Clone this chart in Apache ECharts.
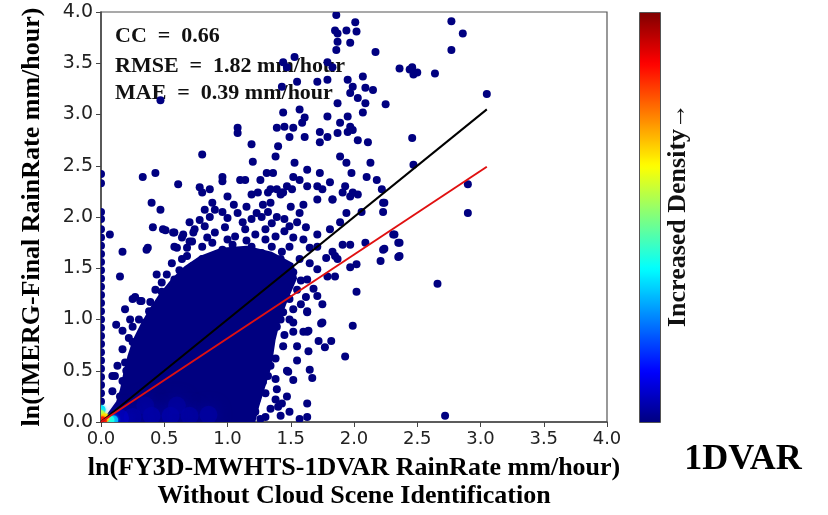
<!DOCTYPE html>
<html>
<head>
<meta charset="utf-8">
<script src="https://cdn.jsdelivr.net/npm/echarts@6/dist/echarts.min.js"></script>
<style>
  html, body { margin: 0; padding: 0; background: #fff; }
  #chart { width: 828px; height: 515px; }
</style>
</head>
<body>
<div id="chart"></div>
<script>
// axis ticks
const xTicks = [0, 0.5, 1, 1.5, 2, 2.5, 3, 3.5, 4];
const yTicks = [0, 0.5, 1, 1.5, 2, 2.5, 3, 3.5, 4];

// saturated (solid) part of the scatter cloud, outline
const denseCore = [
  [0, 0], [0.05, 0.08], [0.12, 0.2], [0.15, 0.32], [0.18, 0.5], [0.21, 0.65], [0.25, 0.8],
  [0.31, 0.95], [0.38, 1.1], [0.46, 1.25], [0.56, 1.4], [0.66, 1.52], [0.78, 1.62], [0.95, 1.7],
  [1.15, 1.72], [1.35, 1.66], [1.52, 1.55], [1.55, 1.4], [1.48, 1.2], [1.42, 1.0], [1.38, 0.8],
  [1.35, 0.55], [1.3, 0.35], [1.25, 0.15], [1.22, 0]
];

// individual points [x, y]
const scatterPoints = [
  [1.86, 3.97], [1.85, 3.82], [1.87, 3.79], [1.94, 3.82], [2.01, 3.90], [2.02, 3.81], [1.87, 3.71], [1.86, 3.63],
  [1.97, 3.70], [2.17, 3.61], [2.36, 3.45], [2.44, 3.44], [2.47, 3.39], [2.46, 3.46], [2.50, 3.41], [2.64, 3.40],
  [2.77, 3.91], [2.86, 3.79], [2.77, 3.63], [3.05, 3.20],
  [1.44, 3.51], [1.53, 3.56], [1.47, 3.46], [1.79, 3.51], [1.83, 3.46],
  [1.43, 3.27], [1.55, 3.32], [1.71, 3.32], [1.79, 3.34],
  [1.95, 3.34], [1.99, 3.27], [2.07, 3.37], [2.09, 3.26], [2.15, 3.24], [1.97, 3.21], [2.03, 3.16], [2.09, 3.11], [2.25, 3.10],
  [0.47, 3.14],
  [1.57, 3.05], [1.61, 2.97], [1.52, 2.87], [1.59, 2.92], [1.44, 3.02], [1.45, 2.88], [1.39, 2.87], [1.49, 2.78],
  [1.61, 2.78], [1.73, 2.83], [1.79, 2.98], [1.87, 3.11], [1.73, 2.73], [1.79, 2.78], [1.87, 2.82], [1.89, 2.92],
  [1.95, 2.98], [1.97, 2.88], [1.99, 2.85], [2.07, 3.02], [2.11, 2.73], [2.03, 2.75], [1.95, 2.83],
  [1.08, 2.87], [1.08, 2.82], [0.80, 2.61], [1.19, 2.71], [1.20, 2.54], [1.38, 2.59], [1.40, 2.69],
  [0.33, 2.39], [0.43, 2.43], [0.61, 2.32], [0.78, 2.29], [0.80, 2.24], [0.86, 2.27], [0.96, 2.39], [0.96, 2.35],
  [1.10, 2.36], [1.14, 2.36], [1.26, 2.36], [1.24, 2.24],
  [1.31, 2.43], [1.36, 2.43], [1.34, 2.27], [1.39, 2.27], [1.44, 2.24], [1.47, 2.30], [1.53, 2.53], [1.52, 2.39],
  [1.57, 2.36], [1.63, 2.46], [1.73, 2.43], [1.71, 2.30], [1.75, 2.27], [1.81, 2.34], [1.83, 2.17],
  [1.89, 2.59], [1.94, 2.53], [1.98, 2.43], [1.93, 2.30], [1.97, 2.20], [2.03, 2.22], [2.10, 2.39], [2.13, 2.53],
  [2.18, 2.36], [2.22, 2.27], [2.23, 2.14],
  [2.46, 2.77], [2.47, 2.51], [2.90, 2.32], [2.90, 2.04], [2.24, 2.14], [2.31, 1.83], [2.36, 1.75], [2.24, 1.69],
  [2.36, 1.62], [2.66, 1.35], [2.72, 0.06],
  [0.40, 2.14], [0.47, 2.07], [0.41, 1.90], [0.49, 1.88], [0.17, 1.66], [0.37, 1.70], [0.07, 1.83],
  [0.57, 1.85], [0.64, 1.80], [0.60, 1.70], [0.70, 1.76], [0.73, 1.85],
  [0.82, 2.07], [0.90, 2.07], [0.96, 2.05], [0.86, 2.00], [1.00, 1.99], [1.08, 2.04], [1.19, 1.98], [1.27, 2.00],
  [1.32, 2.05], [1.39, 2.00], [1.45, 1.98], [1.43, 2.24], [1.32, 2.24], [1.19, 2.22], [1.00, 2.20], [1.51, 2.27],
  [0.74, 1.88], [0.82, 1.91], [0.90, 1.85], [0.98, 1.90], [1.06, 1.81], [1.14, 1.88], [1.22, 1.83], [1.30, 1.88],
  [1.38, 1.81], [1.45, 1.86],
  [0.72, 1.76], [0.80, 1.71], [0.88, 1.75], [0.96, 1.68], [1.04, 1.73], [1.11, 1.66], [1.19, 1.71], [1.27, 1.65],
  [1.35, 1.71], [1.43, 1.66],
  [0.64, 1.59], [0.72, 1.52], [0.80, 1.59], [0.88, 1.54], [0.96, 1.57], [1.04, 1.51], [1.11, 1.56], [1.19, 1.49],
  [1.27, 1.54], [1.35, 1.49], [1.43, 1.52],
  [0.52, 1.44], [0.58, 1.39], [0.66, 1.42], [0.56, 1.29], [0.48, 1.27], [0.43, 1.29], [0.27, 1.22], [0.39, 1.17],
  [0.45, 1.07], [0.40, 1.03], [0.48, 0.93], [0.35, 0.97], [0.25, 0.93], [0.17, 0.89], [0.15, 1.42], [0.44, 1.44],
  [0.32, 1.18], [0.36, 1.68], [0.51, 1.87], [0.58, 1.85], [0.65, 1.83], [0.58, 1.71],
  [1.23, 2.04], [1.34, 2.14], [1.42, 2.22], [1.63, 2.30], [1.71, 2.17], [1.83, 2.17], [1.91, 2.24], [1.99, 2.24],
  [2.06, 2.05], [1.89, 1.95], [1.81, 1.88], [1.71, 1.83], [1.94, 2.04], [1.57, 2.04], [1.49, 1.91], [1.60, 1.78],
  [1.71, 1.71], [1.49, 1.71], [1.42, 1.59], [1.57, 1.59], [1.71, 1.49], [1.52, 1.46], [1.44, 1.39], [1.63, 1.39],
  [1.55, 1.29], [1.71, 1.23], [1.49, 1.20], [1.63, 1.08], [1.44, 1.07], [1.52, 0.97], [1.39, 0.93], [1.31, 1.00],
  [1.79, 1.42], [1.87, 1.59],
  [2.23, 2.05], [2.32, 1.83], [2.35, 1.75], [2.23, 1.68], [2.21, 1.57], [2.35, 1.61], [2.09, 1.75], [1.97, 1.73],
  [1.91, 1.73], [1.83, 1.66], [1.85, 1.62], [1.97, 1.51], [2.02, 1.54], [2.02, 1.27], [1.75, 0.97], [1.99, 0.94],
  [1.64, 0.89], [1.85, 1.42],
  [1.93, 0.64], [1.74, 0.96], [1.72, 0.79], [1.77, 0.73], [1.82, 0.79], [1.64, 0.69], [1.63, 1.07], [1.65, 0.51],
  [1.67, 0.43], [1.48, 0.49], [1.52, 0.41], [1.63, 0.18], [1.63, 0.05], [1.38, 0.22], [1.43, 0.18], [1.75, 1.15],
  [1.63, 0.88], [1.55, 0.74],
  [1.20, 1.03], [1.28, 0.93], [1.42, 1.00], [1.49, 1.00], [1.52, 0.88], [1.60, 0.88], [1.44, 0.74], [1.34, 0.81],
  [1.26, 0.61], [1.34, 0.55], [1.47, 0.50], [1.28, 0.39], [1.39, 0.32], [1.23, 0.22], [1.34, 0.13], [1.42, 0.06],
  [1.26, 0.03], [1.49, 0.10], [1.57, 0.03],
  [1.22, 0.10], [1.30, 0.28], [1.32, 0.45], [1.38, 0.62], [1.30, 0.70], [1.45, 0.85], [1.36, 0.90], [1.30, 0.05],
  [1.38, 0.42], [1.25, 0.48], [1.40, 0.15], [1.47, 0.25], [1.55, 0.60], [1.58, 1.15],
  [0.09, 0.30], [0.11, 0.45], [0.19, 0.58], [0.17, 0.71], [0.25, 0.78], [0.32, 0.84], [0.27, 0.58], [0.21, 0.35],
  [0.09, 0.45], [0.25, 1.20], [0.31, 1.18], [0.20, 0.50], [0.30, 0.70], [0.15, 0.25],
  [0.17, 0.40], [0.31, 0.48], [0.13, 0.55], [0.35, 0.62], [0.40, 0.70], [0.22, 0.82], [0.38, 0.80], [0.44, 0.88],
  [0.30, 1.00], [0.47, 1.02], [0.52, 1.15], [0.38, 1.08], [0.57, 1.22], [0.62, 1.35], [0.48, 1.36], [0.68, 1.62],
  [0.56, 1.55], [0.62, 1.48], [0.23, 1.00], [0.19, 1.10], [0.12, 0.95], [0.53, 0.98], [0.58, 1.10],
  [0.70, 1.95], [0.78, 1.97], [1.12, 1.95], [1.35, 1.94], [1.55, 1.95], [1.62, 1.90], [0.68, 1.70], [0.84, 1.80],
  [1.00, 1.78], [1.15, 1.77], [1.30, 1.78], [1.52, 1.80], [1.65, 1.70], [0.92, 1.64], [1.08, 1.62], [1.24, 1.60],
  [1.65, 1.55], [1.78, 1.60], [0.88, 2.14], [1.05, 2.12], [1.15, 2.10], [1.28, 2.12], [1.50, 2.10], [1.60, 2.12],
  [1.68, 1.30], [1.58, 1.38], [1.62, 1.22], [1.52, 1.10],
  [0, 2.42], [0, 2.33], [0, 2.05], [0, 1.98], [0, 1.88], [0, 1.80], [0, 1.72], [0, 1.64], [0, 1.56], [0, 1.48],
  [0, 1.40], [0, 1.32], [0, 1.24], [0, 1.16], [0, 1.08], [0, 1.00], [0, 0.92], [0, 0.84], [0, 0.76], [0, 0.68],
  [0, 0.60], [0, 0.52], [0, 0.44], [0, 0.36], [0, 0.28], [0, 0.20], [0, 0.12], [0, 0.05]
];

// points coloured by density [x, y, density 0..1]
const densityPoints = [
  [0.25, 0.05, 0.05], [0.4, 0.06, 0.06], [0.55, 0.06, 0.06], [0.7, 0.06, 0.05], [0.85, 0.07, 0.045],
  [0.35, 0.16, 0.04], [0.6, 0.16, 0.04], [0.15, 0.04, 0.08],
  [0.1, 0.02, 0.3], [0.07, 0.02, 0.4], [0.0, 0.12, 0.35],
  [0.0, 0.07, 0.55], [0.03, 0.04, 0.65], [0.01, 0.01, 0.85]
];

// regression lines
const lineOneToOne = [[0, 0], [3.05, 3.05]];
const lineFit = [[0, 0], [3.05, 2.49]];

const jet = ["#00007f", "#0000ff", "#007fff", "#00ffff", "#7fff7f", "#ffff00", "#ff7f00", "#ff0000", "#7f0000"];
const serif = "'Liberation Serif', 'Times New Roman', serif";
const sans = "'DejaVu Sans', Verdana, sans-serif";

const chart = echarts.init(document.getElementById("chart"));

const option = {
  animation: false,
  grid: {
    left: 101, right: 221, top: 12, bottom: 92,
    show: true, borderColor: "#555", borderWidth: 1.2
  },
  xAxis: {
    type: "value", min: 0, max: 4, interval: 0.5,
    name: "ln(FY3D-MWHTS-1DVAR RainRate mm/hour)\nWithout Cloud Scene Identification",
    nameLocation: "middle", nameGap: 32,
    nameTextStyle: { fontFamily: serif, fontWeight: "bold", fontSize: 26, color: "#000", lineHeight: 28 },
    axisLine: { lineStyle: { color: "#444", width: 1.5 } },
    axisTick: { show: true, length: 5, lineStyle: { color: "#444" }, customValues: xTicks },
    axisLabel: { fontFamily: sans, fontSize: 18, color: "#222", margin: 8, formatter: v => v.toFixed(1), customValues: xTicks },
    splitLine: { show: false }
  },
  yAxis: {
    type: "value", min: 0, max: 4, interval: 0.5,
    name: "ln(IMERG-Final RainRate mm/hour)",
    nameLocation: "middle", nameGap: 56,
    nameTextStyle: { fontFamily: serif, fontWeight: "bold", fontSize: 26, color: "#000" },
    axisLine: { lineStyle: { color: "#444", width: 1.5 } },
    axisTick: { show: true, length: 5, lineStyle: { color: "#444" }, customValues: yTicks },
    axisLabel: { fontFamily: sans, fontSize: 19, color: "#222", margin: 8, formatter: v => v.toFixed(1), customValues: yTicks },
    splitLine: { show: false }
  },
  visualMap: {
    type: "continuous",
    seriesIndex: 2,
    dimension: 2,
    min: 0, max: 1,
    calculable: false,
    left: 639, top: 12,
    itemWidth: 22, itemHeight: 411,
    padding: 0,
    text: ["", ""],
    inRange: { color: jet }
  },
  graphic: [
    {
      type: "rect", silent: true, z: 100,
      shape: { x: 639.5, y: 12.5, width: 21, height: 410 },
      style: { fill: null, stroke: "#555", lineWidth: 1 }
    },
    {
      type: "text", x: 678, y: 215, rotation: Math.PI / 2,
      style: { text: "Increased Density\u2192", font: "bold 26px " + serif, fill: "#111", align: "center", verticalAlign: "middle" }
    },
    {
      type: "text", x: 743, y: 460,
      style: { text: "1DVAR", font: "bold 36px " + serif, fill: "#000", align: "center", verticalAlign: "middle" }
    },
    {
      type: "text", x: 115, y: 36,
      style: { text: "CC  =  0.66", font: "bold 22px " + serif, fill: "#111", verticalAlign: "middle" }
    },
    {
      type: "text", x: 115, y: 66,
      style: { text: "RMSE  =  1.82 mm/hour", font: "bold 22px " + serif, fill: "#111", verticalAlign: "middle" }
    },
    {
      type: "text", x: 115, y: 93,
      style: { text: "MAE  =  0.39 mm/hour", font: "bold 22px " + serif, fill: "#111", verticalAlign: "middle" }
    }
  ],
  series: [
    {
      type: "custom",
      clip: true,
      data: [0],
      renderItem: (params, api) => ({
        type: "polygon",
        shape: { points: denseCore.map(p => api.coord(p)) },
        style: { fill: "#000080" }
      }),
      z: 1
    },
    {
      type: "custom",
      clip: true,
      data: scatterPoints,
      itemStyle: { color: "#000080" },
      renderItem: (params, api) => {
        const p = api.coord([api.value(0), api.value(1)]);
        return {
          type: "circle",
          shape: { cx: p[0], cy: p[1], r: 4 },
          style: { fill: api.visual("color") }
        };
      },
      z: 2
    },
    {
      type: "custom",
      clip: true,
      data: densityPoints,
      renderItem: (params, api) => {
        const p = api.coord([api.value(0), api.value(1)]);
        const d = api.value(2);
        const color = api.visual("color");
        return {
          type: "circle",
          shape: { cx: p[0], cy: p[1], r: d < 0.1 ? 9 : 4.5 },
          style: { fill: color, opacity: d < 0.1 ? 0.5 : 1, shadowBlur: d < 0.1 ? 14 : 3, shadowColor: color }
        };
      },
      z: 3
    },
    {
      type: "line",
      data: lineOneToOne,
      symbol: "none",
      lineStyle: { color: "#000", width: 2 },
      z: 4
    },
    {
      type: "line",
      data: lineFit,
      symbol: "none",
      lineStyle: { color: "#e01010", width: 2 },
      z: 4
    }
  ]
};

chart.setOption(option);
</script>
</body>
</html>
